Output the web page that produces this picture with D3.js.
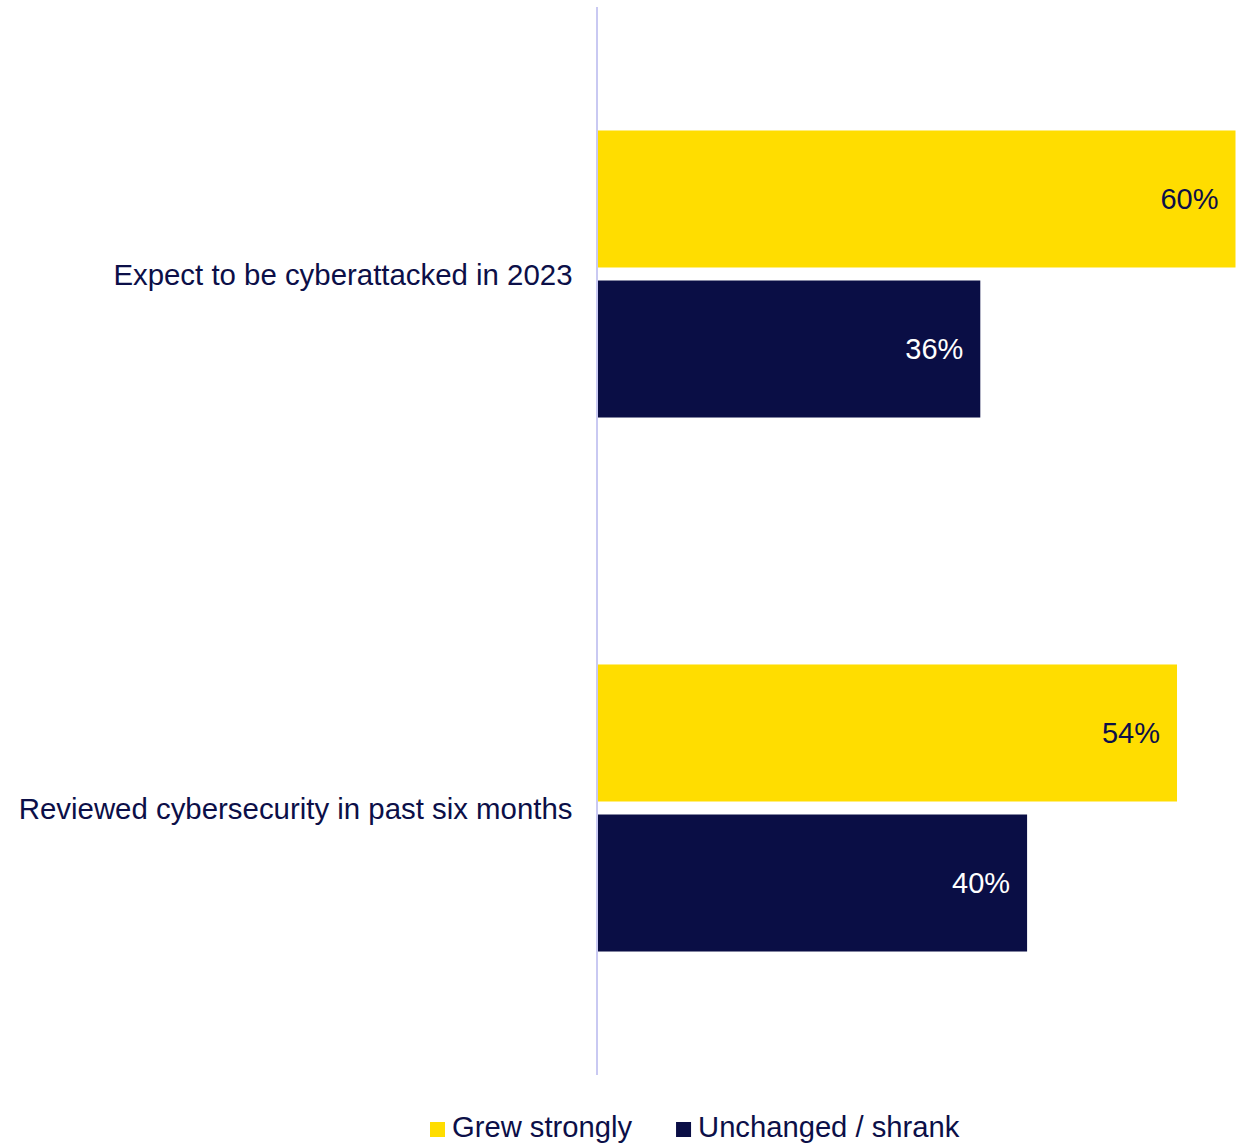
<!DOCTYPE html>
<html lang="en">
<head>
    <meta charset="UTF-8">
    <title>Cyberattack expectations</title>
    <script src="https://cdn.jsdelivr.net/npm/d3@7"></script>
    <style>
        body {
            margin: 0;
            background: #ffffff;
            font-family: "Liberation Sans", Arial, sans-serif;
        }
        svg {
            display: block;
        }
    </style>
</head>
<body>
    <div id="chart"></div>

    <script>
        // data
        const categories = ["Expect to be cyberattacked in 2023", "Reviewed cybersecurity in past six months"];
        const seriesNames = ["Grew strongly", "Unchanged / shrank"];
        const grewValues = [60.0, 54.5];
        const unchangedValues = [36.0, 40.4];
        const valueLabels = [["60%", "36%"], ["54%", "40%"]];

        const colors = ["#FFDD00", "#0A0E45"];
        const labelColors = ["#0C0F48", "#ffffff"];
        const textColor = "#0C0F48";

        const width = 1238;
        const height = 1144;
        const axisX = 597.5;
        const plotTop = 7, plotBottom = 1075;

        const rows = categories.map((c, i) => ({
            category: c,
            values: [grewValues[i], unchangedValues[i]],
            labels: valueLabels[i]
        }));

        const x = d3.scaleLinear().domain([0, 60]).range([axisX, axisX + 638]);

        const y0 = d3.scaleBand()
            .domain(categories)
            .range([plotTop, plotBottom])
            .paddingInner(0.4625)
            .paddingOuter(0.23125);

        const y1 = d3.scaleBand()
            .domain(seriesNames)
            .range([0, y0.bandwidth()])
            .paddingInner(0.0867);

        const svg = d3.select("#chart")
            .append("svg")
            .attr("width", width)
            .attr("height", height);

        const groups = svg.append("g")
            .selectAll("g")
            .data(rows)
            .join("g")
            .attr("transform", d => `translate(0,${y0(d.category)})`);

        groups.selectAll("rect")
            .data(d => d.values.map((v, j) => ({ v, j, s: seriesNames[j] })))
            .join("rect")
            .attr("x", x(0))
            .attr("y", d => y1(d.s))
            .attr("width", d => x(d.v) - x(0))
            .attr("height", y1.bandwidth())
            .attr("fill", d => colors[d.j]);

        groups.selectAll("text.value")
            .data(d => d.values.map((v, j) => ({ v, j, s: seriesNames[j], label: d.labels[j] })))
            .join("text")
            .attr("class", "value")
            .attr("x", d => x(d.v) - 17)
            .attr("y", d => y1(d.s) + y1.bandwidth() / 2)
            .attr("dy", "0.36em")
            .attr("text-anchor", "end")
            .attr("font-size", 29)
            .attr("fill", d => labelColors[d.j])
            .text(d => d.label);

        // category labels
        svg.append("g")
            .selectAll("text")
            .data(categories)
            .join("text")
            .attr("x", axisX - 25)
            .attr("y", d => y0(d) + y0.bandwidth() / 2)
            .attr("dy", "0.36em")
            .attr("text-anchor", "end")
            .attr("font-size", 29.4)
            .attr("fill", textColor)
            .text(d => d);

        // vertical axis line
        svg.append("line")
            .attr("x1", axisX - 0.5)
            .attr("x2", axisX - 0.5)
            .attr("y1", plotTop)
            .attr("y2", plotBottom)
            .attr("stroke", "#C9C9F2")
            .attr("stroke-width", 2);

        // legend
        const legend = svg.append("g").attr("transform", "translate(430,1137)");
        let lx = 0;
        seriesNames.forEach((name, i) => {
            const item = legend.append("g").attr("transform", `translate(${lx},0)`);
            item.append("rect")
                .attr("x", 0)
                .attr("y", -15)
                .attr("width", 15)
                .attr("height", 15)
                .attr("fill", colors[i]);
            const t = item.append("text")
                .attr("x", 22)
                .attr("y", 0)
                .attr("font-size", 29.2)
                .attr("fill", textColor)
                .text(name);
            lx += 22 + t.node().getComputedTextLength() + 44;
        });
    </script>
</body>
</html>
